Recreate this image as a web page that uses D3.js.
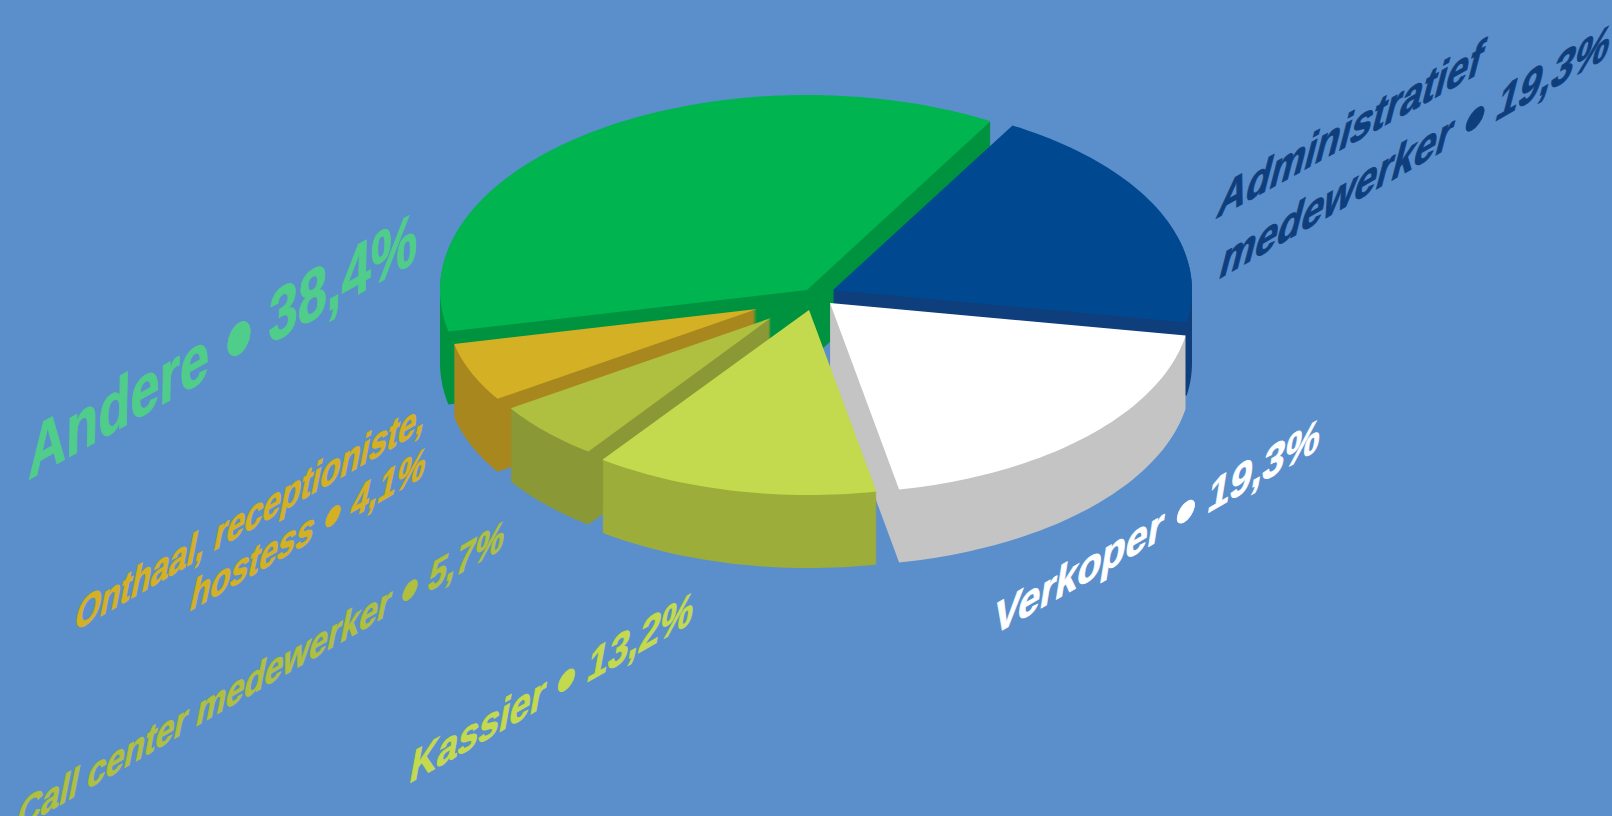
<!DOCTYPE html>
<html><head><meta charset="utf-8">
<style>html,body{margin:0;padding:0;background:#5b8fcc;overflow:hidden}svg{display:block}</style>
<script src="https://cdn.jsdelivr.net/npm/d3@7/dist/d3.min.js"></script>
</head><body>
<svg id="c" width="1612" height="816"></svg>
<script>
// Slices in drawing order around the pie, starting at the top right.
const categories = ["Administratief medewerker","Verkoper","Kassier","Call center medewerker","Onthaal, receptioniste, hostess","Andere"];
// Percentages printed on the labels.
const printedValues = ["19,3%","19,3%","13,2%","5,7%","4,1%","38,4%"];
// Share of the circle each wedge occupies as actually drawn in the picture.
const drawnShares = [19.4,19.2,13.05,5.8,5.8,36.75];

// Presentation settings, kept apart from the data.
const topColors  = ["#004990","#ffffff","#c4da4e","#afbf40","#d4b024","#00b550"];
const wallColors = ["#0f3e7d","#c4c4c4","#9dad3a","#8a9835","#a8871e","#00933f"];
const apex = [[833,290],[830,303],[809,310],[771,318],[757,309],[807,290]];
const radiusX = [359,361,352,311,310,367];
const radiusY = [190,190,185,165,164,195];
const paintOrder = [5,0,1,4,3,2];
const depth = 73;

const svg = d3.select("#c");
svg.append("rect").attr("width",1612).attr("height",816).attr("fill","#5b8fcc");

const pie = d3.pie().sort(null).startAngle(30*Math.PI/180).endAngle((360+30)*Math.PI/180);
const arcs = pie(drawnShares);
const line = d3.line();

paintOrder.forEach(i=>{
  const a = arcs[i], [cx,cy]=apex[i], rx=radiusX[i], ry=radiusY[i];
  const n = Math.max(8,Math.round((a.endAngle-a.startAngle)*40));
  const angle = d3.scaleLinear().domain([0,n]).range([a.startAngle,a.endAngle]);
  const rim = d3.range(n+1).map(k=>{const t=angle(k);return [cx+rx*Math.sin(t),cy-ry*Math.cos(t)];});
  const sector = [[cx,cy],...rim];
  const g = svg.append("g").attr("class","slice");
  // The wall is the top face swept downwards: one path, so its parts show no seams.
  const sweep = d3.range(depth,0,-1).map(d=>line(sector.map(p=>[p[0],p[1]+d]))+"Z").join("");
  g.append("path").attr("d",sweep).attr("fill",wallColors[i]);
  g.append("path").attr("d",line(sector)+"Z").attr("fill",topColors[i]);
});

// Label lines: text before the bullet, value after it, baseline start, baseline end, size, lean, colour.
const labelLines = [
 {t:"Andere",v:printedValues[5],s:[28,480],e:[417,261],fs:73,k:0.02,sw:1.2,c:"#50cd8a"},
 {t:"Onthaal, receptioniste,",v:null,s:[73,632],e:[423,430],fs:46,k:0.2,sw:0.9,c:"#d4b024"},
 {t:"hostess",v:printedValues[4],s:[188,612],e:[423,477],fs:46,k:0.22,sw:0.9,c:"#d4b024"},
 {t:"Call center medewerker",v:printedValues[3],s:[15,831],e:[502,549],fs:44,k:0.2,sw:0.9,c:"#afbf40"},
 {t:"Kassier",v:printedValues[2],s:[408,784],e:[691,623],fs:48,k:0.18,sw:0.9,c:"#c4da4e"},
 {t:"Verkoper",v:printedValues[1],s:[992,636],e:[1318,450],fs:48,k:0.16,sw:0.9,c:"#ffffff"},
 {t:"Administratief",v:null,s:[1215,219],e:[1478,74],fs:52,k:0.26,sw:1,c:"#0f3e7d"},
 {t:"medewerker",v:printedValues[0],s:[1217,280],e:[1606,58],fs:52,k:0.26,sw:1,c:"#0f3e7d"}
];
labelLines.forEach(l=>{
  const txt = svg.append("text")
    .attr("font-family","'Liberation Sans',Arial,sans-serif").attr("font-weight",700)
    .attr("font-size",l.fs).attr("fill",l.c).attr("stroke",l.c).attr("stroke-width",l.sw)
    .style("white-space","pre");
  txt.append("tspan").text(l.t);
  if(l.v){
    txt.append("tspan").text("  ").attr("font-size",l.fs*0.55);
    txt.append("tspan").text("•").attr("font-size",l.fs*1.5).attr("dy",l.fs*0.18);
    txt.append("tspan").text("  ").attr("font-size",l.fs*0.55).attr("dy",-l.fs*0.18);
    txt.append("tspan").text(l.v);
  }
  const w = txt.node().getComputedTextLength();
  const ax=(l.e[0]-l.s[0])/w, ay=(l.e[1]-l.s[1])/w;
  txt.attr("transform",`matrix(${ax} ${ay} ${-l.k} 1 ${l.s[0]} ${l.s[1]})`);
});
</script>
</body></html>
